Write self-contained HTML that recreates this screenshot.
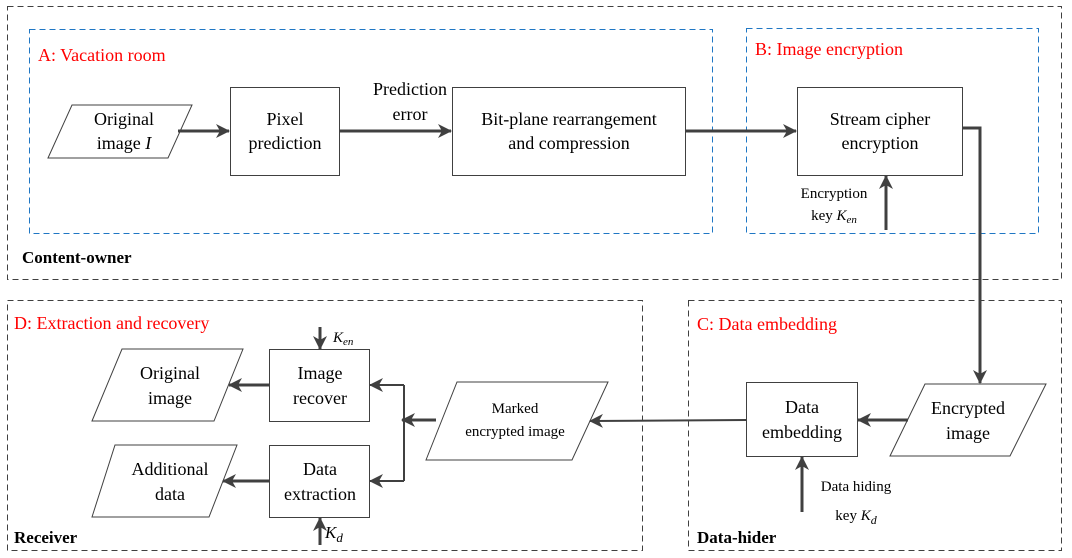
<!DOCTYPE html>
<html><head><meta charset="utf-8"><style>
html,body{margin:0;padding:0;background:#fff;}
svg{display:block;font-family:"Liberation Serif","DejaVu Serif",serif;}
text{font-family:"Liberation Serif","DejaVu Serif",serif;fill:#000;}
.t{font-size:18px;text-anchor:middle;}
.s{font-size:15px;text-anchor:middle;}
.k{font-size:15px;text-anchor:start;font-style:italic;}
.r{font-size:18px;fill:#ff0000;}
.b{font-size:17px;font-weight:bold;}
</style></head><body>
<svg width="1072" height="558" viewBox="0 0 1072 558" xmlns="http://www.w3.org/2000/svg" font-family="Liberation Serif, serif">
<defs>
<marker id="ahs" markerWidth="14" markerHeight="14" refX="13" refY="7" orient="auto" markerUnits="userSpaceOnUse">
<path d="M0,0 L14,7 L0,14 L4,7 Z" fill="#404040"/>
</marker>
</defs>
<g fill="none" stroke="#404040" stroke-width="1" stroke-dasharray="6,4">
<rect x="7.5" y="6.5" width="1054" height="273"/>
<rect x="7.5" y="300.5" width="635" height="250"/>
<rect x="688.5" y="300.5" width="373" height="250"/>
</g>
<g fill="none" stroke="#1f77c4" stroke-width="1" stroke-dasharray="6,4">
<rect x="29.5" y="29.5" width="683" height="204"/>
<rect x="746.5" y="28.5" width="292" height="205"/>
</g>
<text class="r" x="38" y="61" font-family="Liberation Serif, serif">A: Vacation room</text>
<text class="r" x="755" y="55" font-family="Liberation Serif, serif">B: Image encryption</text>
<text class="r" x="14" y="329" font-family="Liberation Serif, serif">D: Extraction and  recovery</text>
<text class="r" x="697" y="330" font-family="Liberation Serif, serif">C: Data embedding</text>
<text class="b" x="22" y="263" font-family="Liberation Serif, serif">Content-owner</text>
<text class="b" x="14" y="543" font-family="Liberation Serif, serif">Receiver</text>
<text class="b" x="697" y="543" font-family="Liberation Serif, serif">Data-hider</text>

<g fill="#fff" stroke="#404040" stroke-width="1">
<polygon points="48,158 72,105 192,105 168,158"/>
<rect x="230.5" y="87.5" width="109" height="88"/>
<rect x="452.5" y="87.5" width="233" height="88"/>
<rect x="797.5" y="87.5" width="165" height="88"/>
<polygon points="890,456 925,384 1046,384 1010,456"/>
<rect x="746.5" y="382.5" width="111" height="74"/>
<polygon points="426,460 457,382 608,382 572,460"/>
<rect x="269.5" y="349.5" width="100" height="72"/>
<rect x="269.5" y="445.5" width="100" height="72"/>
<polygon points="92,421 122,349 243,349 214,421"/>
<polygon points="92,517 115,445 237,445 209,517"/>
</g>

<g stroke="#404040" stroke-width="3" fill="none">
<line x1="178" y1="131" x2="229" y2="131" marker-end="url(#ahs)"/>
<line x1="339" y1="131" x2="451" y2="131" marker-end="url(#ahs)"/>
<line x1="685" y1="131" x2="796" y2="131" marker-end="url(#ahs)"/>
<line x1="886" y1="230" x2="886" y2="176" marker-end="url(#ahs)"/>
<polyline points="962,128 980,128 980,383" marker-end="url(#ahs)"/>
<line x1="908" y1="420" x2="858" y2="420" marker-end="url(#ahs)"/>
<line x1="802" y1="512" x2="802" y2="457" marker-end="url(#ahs)"/>
<line x1="320" y1="327" x2="320" y2="349" marker-end="url(#ahs)"/>
<line x1="320" y1="545" x2="320" y2="518" marker-end="url(#ahs)"/>
<line x1="269" y1="385" x2="229" y2="385" marker-end="url(#ahs)"/>
<line x1="269" y1="481" x2="223" y2="481" marker-end="url(#ahs)"/>
<line x1="436" y1="420" x2="402" y2="420" marker-end="url(#ahs)"/>
</g>
<g stroke="#404040" stroke-width="2" fill="none">
<line x1="746" y1="420" x2="590" y2="421" marker-end="url(#ahs)"/>
<polyline points="404,385 404,481"/>
<line x1="404" y1="385" x2="370" y2="385" marker-end="url(#ahs)"/>
<line x1="404" y1="481" x2="370" y2="481" marker-end="url(#ahs)"/>
</g>

<g font-family="Liberation Serif, serif">
<text class="t" x="124" y="125">Original</text>
<text class="t" x="124" y="149">image <tspan font-style="italic">I</tspan></text>
<text class="t" x="285" y="125">Pixel</text>
<text class="t" x="285" y="149">prediction</text>
<text class="t" x="410" y="95">Prediction</text>
<text class="t" x="410" y="120">error</text>
<text class="t" x="569" y="125">Bit-plane rearrangement</text>
<text class="t" x="569" y="149">and compression</text>
<text class="t" x="880" y="125">Stream cipher</text>
<text class="t" x="880" y="149">encryption</text>
<text class="s" x="834" y="198">Encryption</text>
<text class="s" x="834" y="220">key <tspan font-style="italic">K</tspan><tspan font-style="italic" font-size="11" dy="3">en</tspan></text>
<text class="t" x="968" y="414">Encrypted</text>
<text class="t" x="968" y="439">image</text>
<text class="t" x="802" y="413">Data</text>
<text class="t" x="802" y="438">embedding</text>
<text class="s" x="856" y="491">Data hiding</text>
<text class="s" x="856" y="520">key <tspan font-style="italic">K</tspan><tspan font-style="italic" font-size="12" dy="4">d</tspan></text>
<text class="s" x="515" y="413">Marked</text>
<text class="s" x="515" y="436">encrypted image</text>
<text class="t" x="320" y="379">Image</text>
<text class="t" x="320" y="404">recover</text>
<text class="t" x="320" y="475">Data</text>
<text class="t" x="320" y="500">extraction</text>
<text class="t" x="170" y="379">Original</text>
<text class="t" x="170" y="404">image</text>
<text class="t" x="170" y="475">Additional</text>
<text class="t" x="170" y="500">data</text>
<text class="k" x="333" y="342">K<tspan font-size="11" dy="3">en</tspan></text>
<text class="k" x="325" y="538" style="font-size:17px">K<tspan font-size="13" dy="4">d</tspan></text>
</g>
</svg>
</body></html>
